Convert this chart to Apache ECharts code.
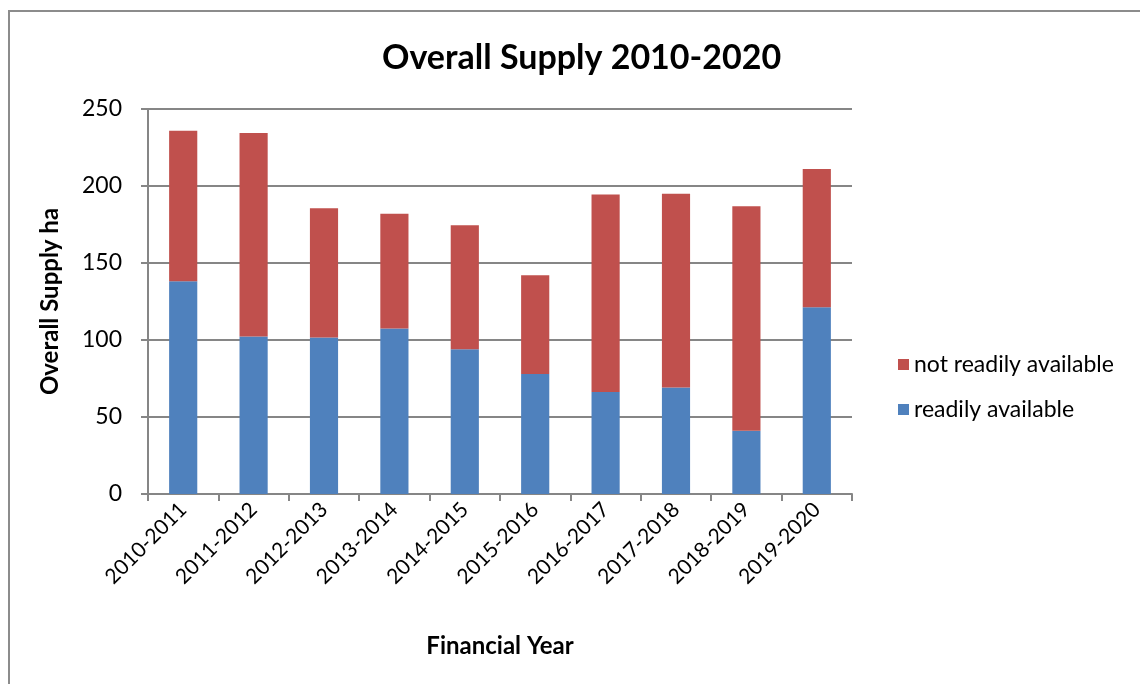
<!DOCTYPE html>
<html>
<head>
<meta charset="utf-8">
<script src="https://cdn.jsdelivr.net/npm/echarts@6/dist/echarts.min.js"></script>
<style>
  html, body { margin: 0; padding: 0; background: #fff; }
  #main { width: 1140px; height: 684px; }
</style>
</head>
<body>
<div id="main"></div>
<script>
// financial years and supply (ha)
var years = ['2010-2011','2011-2012','2012-2013','2013-2014','2014-2015',
             '2015-2016','2016-2017','2017-2018','2018-2019','2019-2020'];
var readilyAvailable = [138.1, 102.2, 101.7, 107.4, 94.0, 77.9, 66.2, 69.2, 41.1, 121.2];
var notReadilyAvailable = [97.8, 132.2, 83.8, 74.6, 80.5, 64.1, 128.2, 125.8, 145.7, 89.8];
var yTicks = [0, 50, 100, 150, 200, 250];

var font = 'Lato, "Open Sans", sans-serif';
var axisGrey = '#868686';

var chart = echarts.init(document.getElementById('main'));
chart.setOption({
  animation: false,
  textStyle: { fontFamily: font },
  graphic: [{
    type: 'rect',
    shape: { x: 9, y: 11, width: 1300, height: 900 },
    style: { fill: 'none', stroke: '#8c8c8c', lineWidth: 2 },
    silent: true
  }],
  title: {
    text: 'Overall Supply 2010-2020',
    left: 377,
    top: 36,
    textStyle: { fontFamily: font, fontSize: 34, fontWeight: 'bold', color: '#000' }
  },
  legend: {
    orient: 'vertical',
    left: 893,
    top: 348,
    itemWidth: 11,
    itemHeight: 11,
    itemGap: 22,
    icon: 'rect',
    data: ['not readily available', 'readily available'],
    textStyle: { fontFamily: font, fontSize: 23, color: '#000' }
  },
  grid: { left: 148, right: 288, top: 109, bottom: 190 },
  xAxis: {
    type: 'category',
    data: years,
    name: 'Financial Year',
    nameLocation: 'middle',
    nameGap: 140,
    nameTextStyle: { fontFamily: font, fontSize: 24, fontWeight: 'bold', color: '#000' },
    axisLine: { lineStyle: { color: axisGrey, width: 2 } },
    axisTick: { show: true, length: 7, lineStyle: { color: axisGrey, width: 2 } },
    axisLabel: { rotate: 45, fontSize: 21, color: '#000', margin: 12, interval: 0 }
  },
  yAxis: {
    type: 'value',
    min: yTicks[0],
    max: yTicks[yTicks.length - 1],
    interval: 50,
    name: 'Overall Supply ha',
    nameLocation: 'middle',
    nameGap: 86,
    nameTextStyle: { fontFamily: font, fontSize: 24, fontWeight: 'bold', color: '#000' },
    axisLine: { show: true, lineStyle: { color: axisGrey, width: 2 } },
    axisTick: { show: true, length: 7, lineStyle: { color: axisGrey, width: 2 } },
    axisLabel: { fontSize: 23, color: '#000', margin: 26 },
    splitLine: { lineStyle: { color: axisGrey, width: 2 } }
  },
  series: [{
    name: 'readily available',
    type: 'bar',
    stack: 'supply',
    barWidth: '40%',
    itemStyle: { color: '#4F81BD' },
    data: readilyAvailable
  }, {
    name: 'not readily available',
    type: 'bar',
    stack: 'supply',
    barWidth: '40%',
    itemStyle: { color: '#C0504D' },
    data: notReadilyAvailable
  }]
});
</script>
</body>
</html>
